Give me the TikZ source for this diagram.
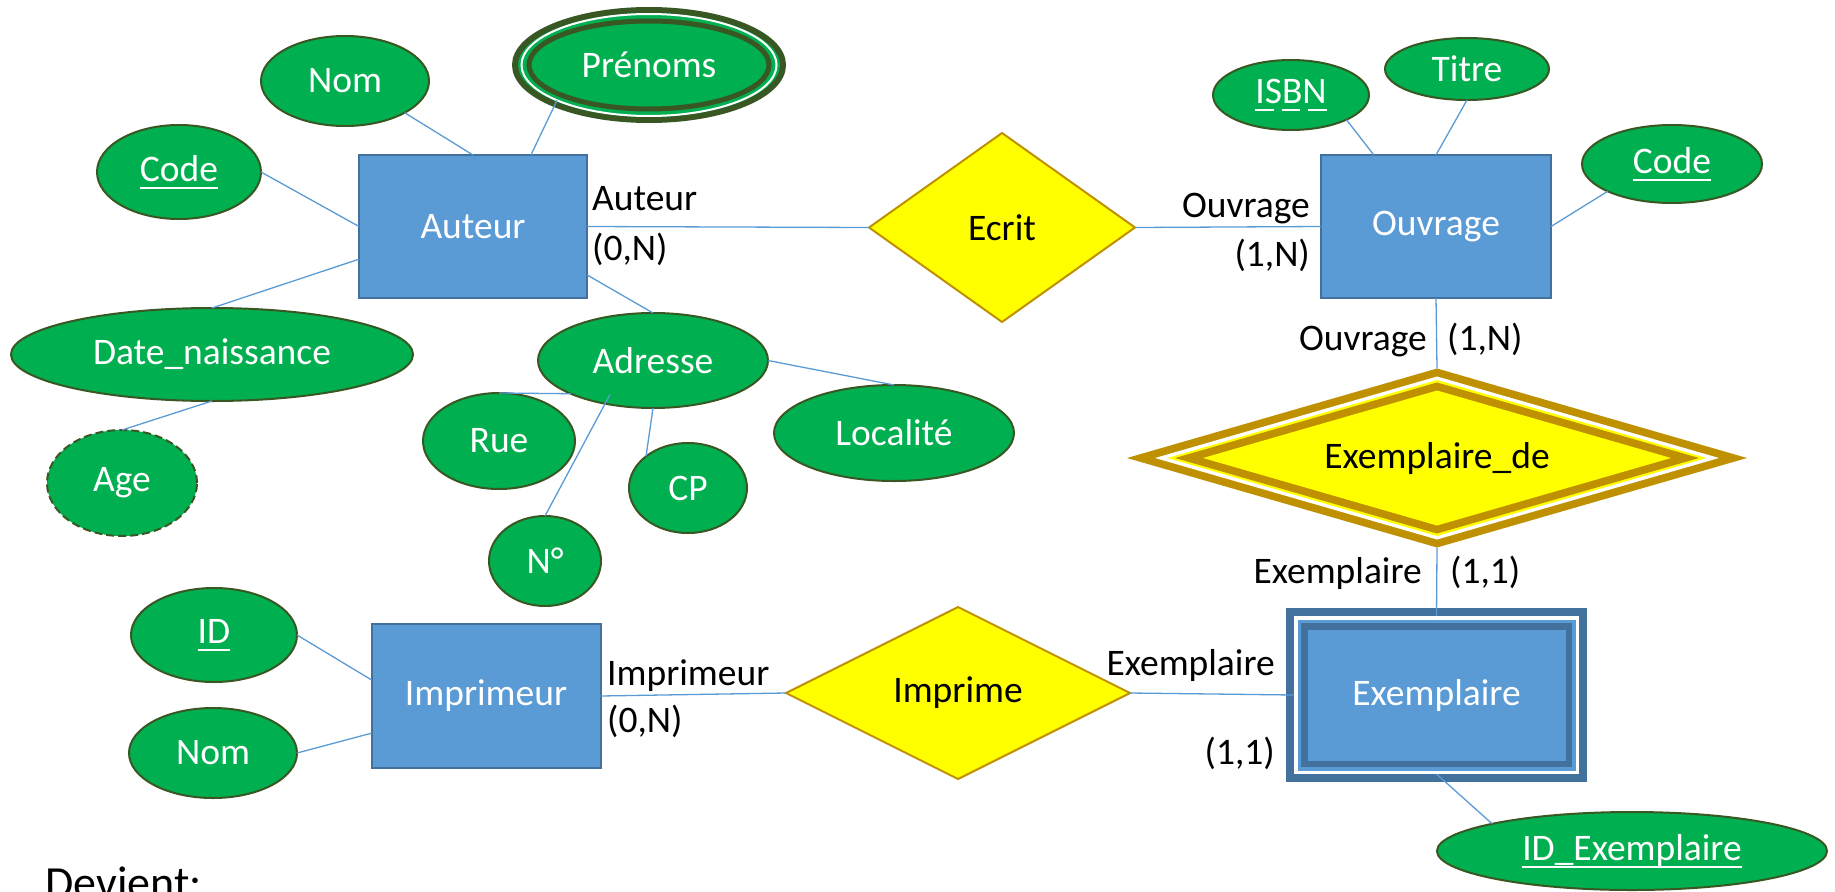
\documentclass[tikz,border=0pt]{standalone}
\usepackage{fontspec}
\setmainfont{Carlito}
\usetikzlibrary{shapes.geometric,calc}

\definecolor{attrgreen}{HTML}{00B050}
\definecolor{attrline}{HTML}{385723}
\definecolor{entfill}{HTML}{5B9BD5}
\definecolor{entline}{HTML}{41719C}
\definecolor{relfill}{HTML}{FFFF00}
\definecolor{relline}{HTML}{BF9000}

\newcommand\keyline[1]{\setbox0=\hbox{#1}\rlap{\rule[-0.2em]{\wd0}{0.05em}}\box0}
\newcommand\partline[1]{\setbox0=\hbox{#1}%
  \rlap{\hbox to \wd0{\rule[-0.2em]{.26\wd0}{.05em}\hfill\rule[-0.2em]{.26\wd0}{.05em}\hfill\rule[-0.2em]{.26\wd0}{.05em}}}\box0}

\begin{document}
\begin{tikzpicture}[x=1pt,y=-1pt,
  font=\fontsize{37.5}{45}\selectfont,
  attr/.style={ellipse,fill=attrgreen,draw=attrline,line width=2,text=white,inner sep=0,outer sep=0},
  ent/.style={rectangle,fill=entfill,draw=entline,line width=2,text=white,inner sep=0,outer sep=0},
  rel/.style={diamond,fill=relfill,draw=relline,line width=2,inner sep=0,outer sep=0},
  layer/.style={inner sep=0,outer sep=0},
  link/.style={draw=entfill,line width=1.3},
  card/.style={inner sep=0}]
  \useasboundingbox (0,0) rectangle (1835,891);

  % entities
  \node[ent,minimum width=228,minimum height=143] (auteur) at (473,226.5) {Auteur};
  \node[ent,minimum width=230,minimum height=143] (ouvrage) at (1436,226.5) {Ouvrage};
  \node[ent,minimum width=229,minimum height=144] (imprimeur) at (486,696) {Imprimeur};

  \node[layer,fill=entline,minimum width=301,minimum height=174] (exo) at (1436.5,695) {};
  \node[layer,fill=white,minimum width=285,minimum height=158] (exw) at (exo) {};
  \node[layer,fill=entfill,minimum width=278,minimum height=151] (exl) at (exo) {};
  \node[layer,fill=entline,minimum width=271,minimum height=144] (exd) at (exo) {};
  \node[layer,fill=entfill,minimum width=258,minimum height=131,text=white] (exemplaire) at (exo) {Exemplaire};

  % relations
  \node[rel,aspect=1.4,minimum width=266,minimum height=189] (ecrit) at (1002,227.5) {Ecrit};
  \node[rel,aspect=2,minimum width=344,minimum height=172] (imprime) at (958,693) {Imprime};

  \node[layer,diamond,aspect=3.5,fill=relline,minimum width=620,minimum height=179] (exde) at (1437,458) {};
  \node[layer,diamond,aspect=3.5,fill=white,minimum width=564,minimum height=163] (exdew) at (exde) {};
  \node[layer,diamond,aspect=3.5,fill=relfill,minimum width=539,minimum height=156] (exdey) at (exde) {};
  \node[layer,diamond,aspect=3.5,fill=relline,minimum width=524,minimum height=151] (exdeg) at (exde) {};
  \node[layer,diamond,aspect=3.5,fill=relfill,minimum width=468,minimum height=135] (exdein) at (exde) {Exemplaire\_de};

  % attributes
  \foreach \n/\x/\y/\w/\h/\t in {
    nomA/345/81/168/90/Nom,
    codeA/179/172/164/94/\keyline{Code},
    datenais/212/354.5/402/93/Date\_naissance,
    adresse/653/360.5/230/95/Adresse,
    rue/499/441/152/96/Rue,
    cp/688/488/118/90/CP,
    numero/545/561/112/90/N°,
    localite/894/433/240/96/Localité,
    isbn/1291/95/156/70/\partline{ISBN},
    titre/1467/69/164/62/Titre,
    codeO/1672/164/180/78/\keyline{Code},
    idex/1632/851/390/78/\keyline{ID\_Exemplaire},
    idimp/214/635/166/94/\keyline{ID},
    nomI/213/753/168/90/Nom}
    \node[attr,minimum width=\w,minimum height=\h] (\n) at (\x,\y) {\t};

  \node[attr,dashed,dash pattern=on 8 off 4,minimum width=150,minimum height=106] (age) at (122,483) {Age};

  \node[attr,line width=6,minimum width=268,minimum height=110] (prenoms) at (649,65) {};
  \node[layer,ellipse,draw=white,line width=2,minimum width=255,minimum height=102] (prenomsw) at (prenoms) {};
  \node[layer,ellipse,draw=attrline,line width=5,minimum width=240,minimum height=88,text=white] (prenomsin) at (prenoms) {Prénoms};

  % links
  \coordinate (adrN) at ($(adresse)+(-43,34)$);
  \foreach \a/\b in {nomA.332/auteur.north, prenomsw.201/auteur.51, codeA.east/auteur.west,
    datenais.north/auteur.196, auteur.337/adresse.north, datenais.south/age.north,
    rue.north/adresse.202, adrN/numero.north, adresse.south/cp.143, adresse.east/localite.north,
    auteur.east/ecrit.west, ecrit.east/ouvrage.west, ouvrage.131/isbn.336,
    ouvrage.north/titre.south, ouvrage.east/codeO.203, ouvrage.south/exde.north,
    exde.south/exw.north, imprimeur.east/imprime.west, imprime.east/exw.west,
    exw.south/idex.169, idimp.east/imprimeur.172, nomI.east/imprimeur.198}
    \draw[link] (\a) -- (\b);

  % cardinalities
  \foreach \n/\anc/\x/\y/\t in {
    cAutA/base west/592/210/Auteur, cAutB/base west/592/260/{(0,N)},
    cOuvA/base east/1310/217/Ouvrage, cOuvB/base east/1310/266/{(1,N)},
    cOuvC/base east/1427/350/Ouvrage, cOuvD/base west/1447/350/{(1,N)},
    cExA/base east/1422/583/Exemplaire, cExB/base west/1450/583/{(1,1)},
    cImpA/base west/607/685/Imprimeur, cImpB/base west/607/732/{(0,N)},
    cExC/base east/1275/675/Exemplaire, cExD/base east/1275/764/{(1,1)}}
    \node[card,anchor=\anc] (\n) at (\x,\y) {\t};

  \node[card,anchor=base west,font=\fontsize{46}{55}\selectfont] (devient) at (45,898) {Devient:};
\end{tikzpicture}
\end{document}
